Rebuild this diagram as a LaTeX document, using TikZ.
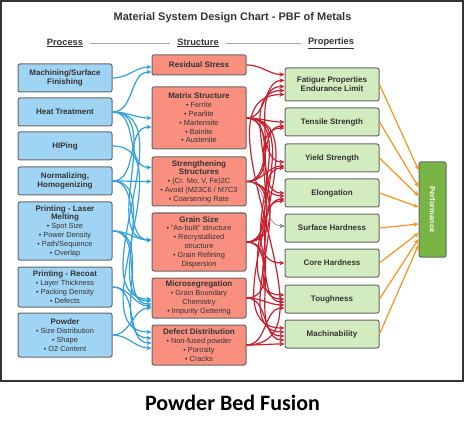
\documentclass[tikz,border=0pt]{standalone}
\usepackage{fontspec}
\setmainfont{Liberation Sans}
\newfontfamily\capfont{Carlito}
\usepackage{xcolor}
\usetikzlibrary{arrows.meta,calc}

\definecolor{procfill}{HTML}{A0D4F5}
\definecolor{structfill}{HTML}{F98F7F}
\definecolor{propfill}{HTML}{D2EBBF}
\definecolor{perffill}{HTML}{79B545}
\definecolor{boxline}{HTML}{666666}
\definecolor{txt}{HTML}{333333}
\definecolor{blueline}{HTML}{33A0DC}
\definecolor{redline}{HTML}{C8202F}
\definecolor{orangeline}{HTML}{F7931E}

\newcommand{\bul}{{\scriptsize\textbullet}\ }
\newcommand{\hd}[1]{{\bfseries\fontsize{8}{9.3}\selectfont #1}}

\tikzset{
  box/.style={draw=boxline,line width=1pt,rounded corners=2pt,
    minimum width=94pt,inner sep=1pt,align=center,text=txt,
    font=\fontsize{7.4}{8.8}\selectfont},
  procbox/.style={box,fill=procfill},
  structbox/.style={box,fill=structfill},
  propbox/.style={box,fill=propfill},
  perfbox/.style={draw=boxline,line width=1pt,rounded corners=2pt,
    fill=perffill,minimum width=27pt,minimum height=95pt},
  hdr/.style={font=\bfseries\fontsize{9.3}{11}\selectfont,text=txt,inner sep=2pt},
  tip/.style={-{Stealth[length=5pt,width=4.5pt]}},
  bluearrow/.style={tip,draw=blueline,line width=1.2pt,out=0,in=180},
  redarrow/.style={tip,draw=redline,line width=1.2pt,out=0,in=180},
  greyarrow/.style={tip,draw=gray,line width=0.6pt,out=0,in=180},
  orangearrow/.style={tip,draw=orangeline,line width=1.2pt}
}

\begin{document}
\begin{tikzpicture}[x=1pt,y=-1pt]
   \useasboundingbox (0,0) rectangle (465,430);
   \draw[draw=txt,line width=1.2pt] (1,1) rectangle (463,381);

   % titles
   \node[font=\bfseries\fontsize{11}{13}\selectfont,text=txt] (title) at (232.5,18)
      {Material System Design Chart - PBF of Metals};
   \node[hdr] (hproc)  at (65,43)  {\underline{Process}};
   \node[hdr] (hstruc) at (198,43) {\underline{Structure}};
   \node[hdr] (hprop)  at (331,43) {\underline{Properties}};
   \draw[gray!70,line width=0.8pt,shorten <=5pt,shorten >=5pt] (hproc) -- (hstruc);
   \draw[gray!70,line width=0.8pt,shorten <=5pt,shorten >=5pt] (hstruc) -- (hprop);

   % process
   \node[procbox,minimum height=28pt] (mach)   at (65,78)  {\hd{Machining/Surface}\\\hd{Finishing}};
   \node[procbox,minimum height=28pt] (heat)   at (65,112) {\hd{Heat Treatment}};
   \node[procbox,minimum height=28pt] (hip)    at (65,146) {\hd{HIPing}};
   \node[procbox,minimum height=28pt] (norm)   at (65,181) {\hd{Normalizing,}\\\hd{Homogenizing}};
   \node[procbox,minimum height=58pt] (laser)  at (65,231) {\hd{Printing - Laser}\\\hd{Melting}\\
      \bul Spot Size\\\bul Power Density\\\bul Path/Sequence\\\bul Overlap};
   \node[procbox,minimum height=40pt] (recoat) at (65,287) {\hd{Printing - Recoat}\\
      \bul Layer Thickness\\\bul Packing Density\\\bul Defects};
   \node[procbox,minimum height=44pt] (powder) at (65,335) {\hd{Powder}\\
      \bul Size Distribution\\\bul Shape\\\bul O2 Content};

   % structure
   \node[structbox,minimum height=20pt] (resid)  at (199,65)    {\hd{Residual Stress}};
   \node[structbox,minimum height=62pt] (matrix) at (199,118)   {\hd{Matrix Structure}\\
      \bul Ferrite\\\bul Pearlite\\\bul Martensite\\\bul Bainite\\\bul Austenite};
   \node[structbox,minimum height=49pt] (streng) at (199,181.5) {\hd{Strengthening}\\\hd{Structures}\\
      \bul (Cr. Mo, V, Fe)2C\\\bul Avoid (M23C6 / M7C3\\\bul Coarsening Rate};
   \node[structbox,minimum height=58pt] (grain)  at (199,242)   {\hd{Grain Size}\\
      \bul "As-built" structure\\\bul Recrystallized\\structure\\\bul Grain Refining\\Dispersion};
   \node[structbox,minimum height=40pt] (micro)  at (199,298)   {\hd{Microsegregation}\\
      \bul Grain Boundary\\Chemistry\\\bul Impurity Gettering};
   \node[structbox,minimum height=40pt] (defect) at (199,345)   {\hd{Defect Distribution}\\
      \bul Non-fused powder\\\bul Porosity\\\bul Cracks};

   % properties
   \node[propbox,minimum height=33pt] (fat)  at (332,84.5) {\hd{Fatigue Properties}\\\hd{Endurance Limit}};
   \node[propbox,minimum height=28pt] (ten)  at (332,122)  {\hd{Tensile Strength}};
   \node[propbox,minimum height=28pt] (yld)  at (332,158)  {\hd{Yield Strength}};
   \node[propbox,minimum height=28pt] (elo)  at (332,193)  {\hd{Elongation}};
   \node[propbox,minimum height=28pt] (surf) at (332,228)  {\hd{Surface Hardness}};
   \node[propbox,minimum height=28pt] (core) at (332,263)  {\hd{Core Hardness}};
   \node[propbox,minimum height=28pt] (tou)  at (332,299)  {\hd{Toughness}};
   \node[propbox,minimum height=28pt] (mac)  at (332,334)  {\hd{Machinability}};

   \node[perfbox,label={[rotate=-90,text=white,font=\bfseries\fontsize{7.5}{9}\selectfont]center:Performance}]
      (perf) at (432.5,209.5) {};

   % process -> structure
   \path[bluearrow]
    (mach)   edge ([yshift=-2pt]resid.west)
    (heat)   edge ([yshift=-7pt]resid.west)
             edge (matrix)
             edge ([yshift=14pt]streng.west)
             edge ([yshift=2pt]grain.west)
             edge ([yshift=-1pt]micro.west)
    (hip)    edge ([yshift=13pt]defect.west)
    (norm)   edge ([yshift=-9pt]matrix.west)
             edge (streng)
             edge ([yshift=2pt]grain.west)
             edge ([yshift=-3pt]micro.west)
    (laser)  edge ([yshift=2pt]grain.west)
             edge ([yshift=-6pt]micro.west)
             edge ([yshift=7pt]defect.west)
    (recoat) edge ([yshift=-8pt]micro.west)
             edge ([yshift=2pt]defect.west)
    (powder) edge ([yshift=-10pt]micro.west)
             edge ([yshift=-3pt]defect.west);

   % structure -> properties
   \path[redarrow]
    (resid)  edge ([yshift=10pt]fat.west)
    (matrix) edge ([yshift=4pt]fat.west)
             edge (ten)
             edge ([yshift=-4pt]yld.west)
             edge (elo)
             edge (core)
             edge ([yshift=4pt]tou.west)
             edge ([yshift=6pt]mac.west)
    (streng) edge ([yshift=-2pt]fat.west)
             edge ([yshift=-4pt]ten.west)
             edge ([yshift=-8pt]yld.west)
             edge ([yshift=-3pt]elo.west)
             edge (tou)
             edge ([yshift=2pt]mac.west)
    (grain)  edge ([yshift=-6pt]fat.west)
             edge ([yshift=-6pt]ten.west)
             edge ([yshift=-10pt]yld.west)
             edge ([yshift=-6pt]elo.west)
             edge ([yshift=-3pt]tou.west)
             edge ([yshift=-2pt]mac.west)
    (micro)  edge ([yshift=-8pt]elo.west)
             edge ([yshift=-6pt]tou.west)
             edge ([yshift=-6pt]mac.west)
    (defect) edge ([yshift=-10pt]fat.west)
             edge ([yshift=-9pt]tou.west)
             edge ([yshift=-10pt]mac.west);
   \path[greyarrow] (streng) edge ([yshift=2pt]surf.west);

   % properties -> performance
   \foreach \p/\dy in {fat/-39.5,ten/-22.5,yld/-13.5,elo/-2.5,surf/14.5,core/23.5,tou/29.5,mac/35.5}
     \draw[orangearrow] (\p.east) -- ($(perf.west)+(0,\dy)$);

   \node[font=\capfont\bfseries\fontsize{22}{26}\selectfont] (caption) at (232.5,403) {Powder Bed Fusion};
\end{tikzpicture}
\end{document}
